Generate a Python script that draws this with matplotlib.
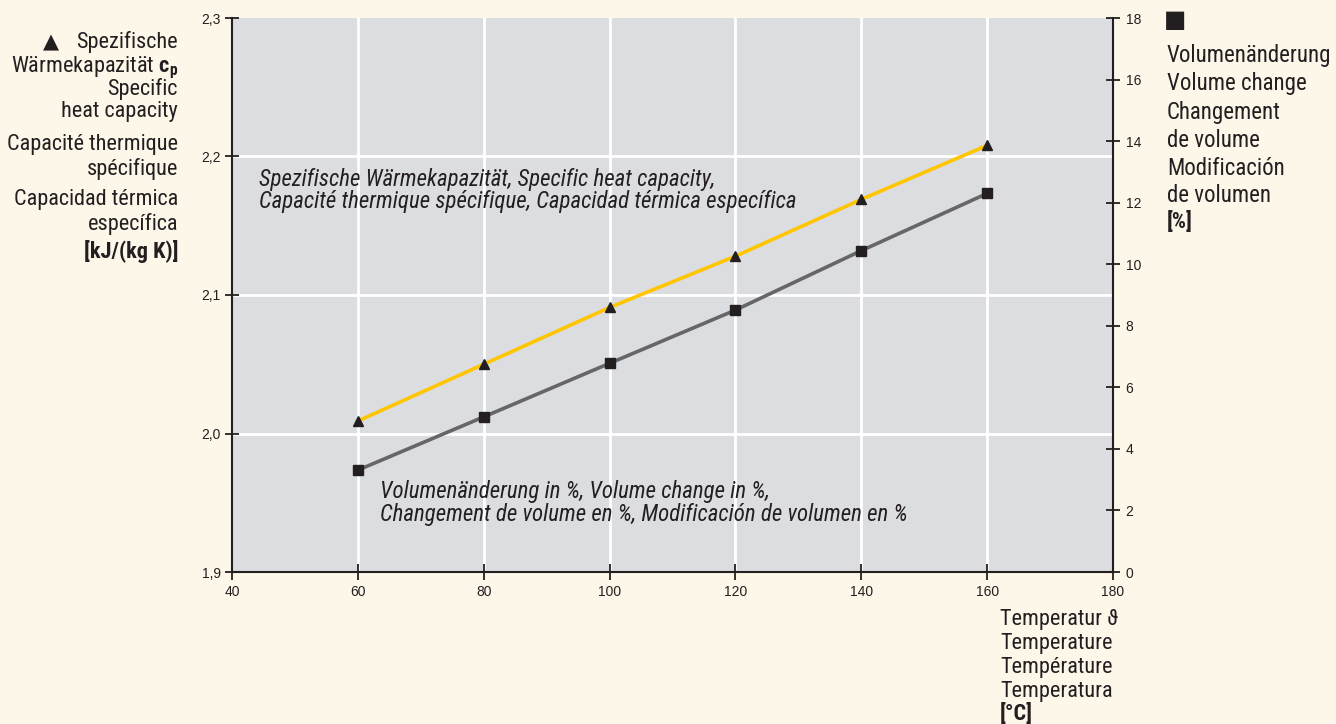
import matplotlib
matplotlib.use("Agg")
import matplotlib.pyplot as plt

# ---------------- data ----------------
temperature = [60, 80, 100, 120, 140, 160]
heat_capacity = [2.009, 2.050, 2.091, 2.128, 2.169, 2.208]   # kJ/(kg K), left axis
volume_change = [3.31, 5.04, 6.78, 8.51, 10.44, 12.30]       # %, right axis

x_ticks = [40, 60, 80, 100, 120, 140, 160, 180]
x_tick_labels = ["40", "60", "80", "100", "120", "140", "160", "180"]
left_ticks = [1.9, 2.0, 2.1, 2.2, 2.3]
left_tick_labels = ["1,9", "2,0", "2,1", "2,2", "2,3"]
right_ticks = [0, 2, 4, 6, 8, 10, 12, 14, 16, 18]
right_tick_labels = ["0", "2", "4", "6", "8", "10", "12", "14", "16", "18"]

left_label_lines = ["Spezifische", "Wärmekapazität $\\mathbf{c}_\\mathbf{p}$", "Specific", "heat capacity",
                    "Capacité thermique", "spécifique", "Capacidad térmica", "específica"]
left_label_unit = "[kJ/(kg K)]"
right_label_lines = ["Volumenänderung", "Volume change", "Changement", "de volume",
                     "Modificación", "de volumen"]
right_label_unit = "[%]"
bottom_label_lines = ["Temperatur ϑ", "Temperature", "Température", "Temperatura"]
bottom_label_unit = "[°C]"
inner_text_cp = ["Spezifische Wärmekapazität, Specific heat capacity,",
                 "Capacité thermique spécifique, Capacidad térmica específica"]
inner_text_vol = ["Volumenänderung in %, Volume change in %,",
                  "Changement de volume en %, Modificación de volumen en %"]

# ---------------- style ----------------
BG = "#fdf7ea"
PLOT_BG = "#dcdde0"
DARK = "#231f20"
YELLOW = "#ffc600"
GREY_LINE = "#666666"
FAM = ["Roboto Condensed", "Liberation Sans", "DejaVu Sans"]
TICK_FAM = ["Liberation Sans", "DejaVu Sans"]
BIG = 16
INNER = 16.5
TICK = 10

plt.rcParams["font.family"] = FAM
plt.rcParams["mathtext.fontset"] = "custom"
plt.rcParams["mathtext.rm"] = "Roboto Condensed"
plt.rcParams["mathtext.bf"] = "Roboto Condensed:bold"

W, H = 1336, 724
fig = plt.figure(figsize=(W / 100, H / 100), dpi=100, facecolor=BG)


def px(x, y):
    return x / W, 1 - y / H


ax = fig.add_axes([232 / W, 1 - 572 / H, (1113 - 232) / W, (572 - 18) / H])
ax.set_facecolor(PLOT_BG)
ax.set_xlim(40, 180)
ax.set_ylim(1.9, 2.3)
ax2 = ax.twinx()
ax2.set_ylim(0, 18)

# gridlines (interior only)
for v in x_ticks[1:-1]:
    ax.axvline(v, color="white", lw=2, zorder=0.5)
for v in left_ticks[1:-1]:
    ax.axhline(v, color="white", lw=2, zorder=0.5)

# series
ax.plot(temperature, heat_capacity, color=YELLOW, lw=2.6, zorder=3)
ax.plot(temperature, heat_capacity, ls="none", marker="^", ms=7, color=DARK, zorder=4)
ax2.plot(temperature, volume_change, color=GREY_LINE, lw=2.6, zorder=3)
ax2.plot(temperature, volume_change, ls="none", marker="s", ms=7, color=DARK, zorder=4)

# axes styling
ax.set_xticks(x_ticks)
ax.set_xticklabels(x_tick_labels, family=TICK_FAM)
ax.set_yticks(left_ticks)
ax.set_yticklabels(left_tick_labels, family=TICK_FAM)
ax2.set_yticks(right_ticks)
ax2.set_yticklabels(right_tick_labels, family=TICK_FAM)

for s in ["top", "right"]:
    ax.spines[s].set_visible(False)
for s in ["top", "left", "bottom"]:
    ax2.spines[s].set_visible(False)
for s in ["left", "bottom"]:
    ax.spines[s].set_color(DARK)
    ax.spines[s].set_linewidth(1.5)
ax2.spines["right"].set_color(DARK)
ax2.spines["right"].set_linewidth(1.5)

ax.tick_params(axis="x", direction="inout", length=11, width=1.3, color=DARK,
               labelsize=TICK, labelcolor=DARK, pad=4)
ax.tick_params(axis="y", direction="inout", length=10, width=1.3, color=DARK,
               labelsize=TICK, labelcolor=DARK, pad=3)
ax2.tick_params(axis="y", direction="inout", length=10, width=1.3, color=DARK,
                labelsize=TICK, labelcolor=DARK, pad=4)

# ---------------- left label block ----------------
left_baselines = [48, 72, 95, 117, 150, 175, 205, 230]
for txt, yb in zip(left_label_lines, left_baselines):
    fig.text(*px(178, yb), txt, ha="right", va="baseline", fontsize=BIG, color=DARK)
fig.text(*px(178, 258), left_label_unit, ha="right", va="baseline", fontsize=BIG,
         color=DARK, fontweight="bold")
fig.text(*px(51, 48), "▲", ha="center", va="baseline", fontsize=15, color=DARK,
         family=["DejaVu Sans"])

# ---------------- right label block ----------------
right_baselines = [62, 90, 119, 147, 175, 202]
for txt, yb in zip(right_label_lines, right_baselines):
    fig.text(*px(1167, yb), txt, ha="left", va="baseline", fontsize=BIG + 0.5, color=DARK)
fig.text(*px(1167, 228), right_label_unit, ha="left", va="baseline", fontsize=BIG,
         color=DARK, fontweight="bold")
fig.text(*px(1175, 20), "■", ha="center", va="center", fontsize=17, color=DARK,
         family=["DejaVu Sans"])

# ---------------- bottom label block ----------------
bottom_baselines = [625, 649, 673, 697]
for txt, yb in zip(bottom_label_lines, bottom_baselines):
    fig.text(*px(1000, yb), txt, ha="left", va="baseline", fontsize=BIG, color=DARK,
             family=FAM + ["DejaVu Serif"])
fig.text(*px(1000, 720), bottom_label_unit, ha="left", va="baseline", fontsize=BIG,
         color=DARK, fontweight="bold")

# ---------------- inner annotations ----------------
for txt, yb in zip(inner_text_cp, [186, 208]):
    fig.text(*px(259, yb), txt, ha="left", va="baseline", fontsize=INNER, color=DARK,
             style="italic")
for txt, yb in zip(inner_text_vol, [498, 521]):
    fig.text(*px(380, yb), txt, ha="left", va="baseline", fontsize=INNER, color=DARK,
             style="italic")

fig.savefig("out.png", dpi=100, facecolor=BG)
